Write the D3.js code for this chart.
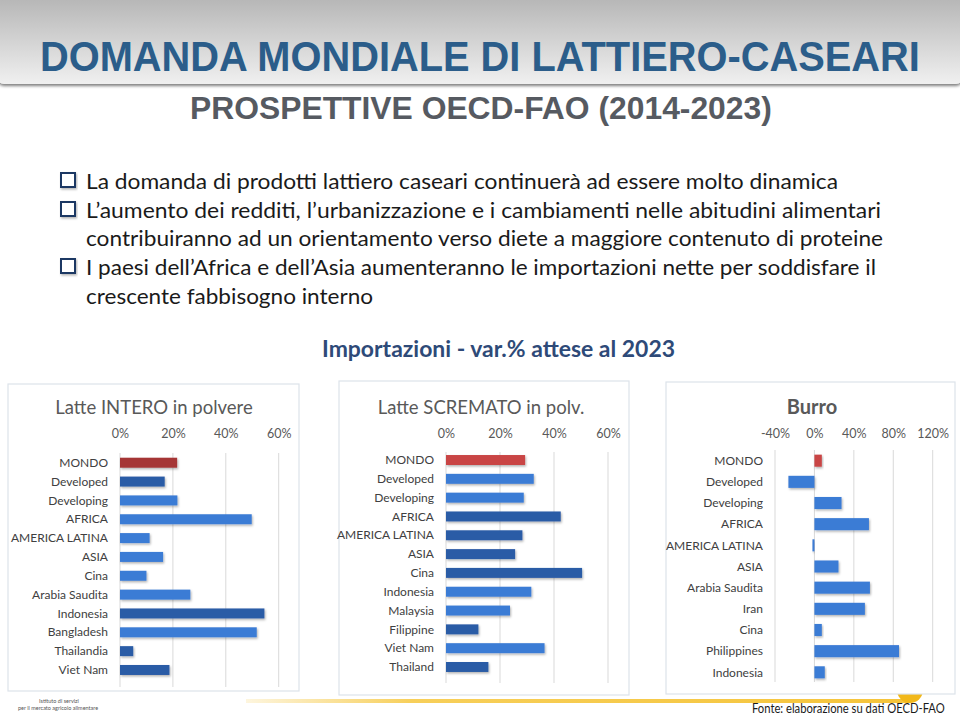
<!DOCTYPE html>
<html lang="it">
<head>
<meta charset="utf-8">
<title>Domanda mondiale di lattiero-caseari</title>
<script src="https://cdn.jsdelivr.net/npm/d3@7"></script>
<style>
    body { margin: 0; background: #fff; }
    text { font-family: Lato, "Noto Sans", sans-serif; }
    .title { font-family: "Liberation Sans Narrow", "Liberation Sans", Arial, sans-serif; font-weight: bold; }
    .bullet { font-size: 21px; fill: #1a1a1a; }
    .cat { font-size: 12px; fill: #404040; }
    .tick text { font-size: 12.5px; fill: #595959; font-family: Lato, "Noto Sans", sans-serif; }
    .grid { stroke: #d9d9d9; stroke-width: 1; }
    .panel { fill: #fff; stroke: #dde3ea; stroke-width: 1.2; }
</style>
</head>
<body>
<div id="container"></div>
<script>
// ---- data ----
var bullets = [
  "La domanda di prodotti lattiero caseari continuerà ad essere molto dinamica",
  "L’aumento dei redditi, l’urbanizzazione e i cambiamenti nelle abitudini alimentari",
  "contribuiranno ad un orientamento verso diete a maggiore contenuto di proteine",
  "I paesi dell’Africa e dell’Asia aumenteranno le importazioni nette per soddisfare il",
  "crescente fabbisogno interno"
];

var intCats = ["MONDO","Developed","Developing","AFRICA","AMERICA LATINA","ASIA","Cina","Arabia Saudita","Indonesia","Bangladesh","Thailandia","Viet Nam"];
var intVals = [0.216, 0.169, 0.217, 0.498, 0.112, 0.163, 0.100, 0.266, 0.546, 0.517, 0.050, 0.187];
var intTone = ["w","d","l","l","l","l","l","l","d","l","d","d"];

var scrCats = ["MONDO","Developed","Developing","AFRICA","AMERICA LATINA","ASIA","Cina","Indonesia","Malaysia","Filippine","Viet Nam","Thailand"];
var scrVals = [0.293, 0.325, 0.288, 0.425, 0.283, 0.256, 0.504, 0.316, 0.237, 0.120, 0.365, 0.157];
var scrTone = ["w","l","l","d","d","d","d","l","l","d","l","d"];

var burCats = ["MONDO","Developed","Developing","AFRICA","AMERICA LATINA","ASIA","Arabia Saudita","Iran","Cina","Philippines","Indonesia"];
var burVals = [0.075, -0.264, 0.275, 0.553, -0.02, 0.244, 0.563, 0.512, 0.075, 0.858, 0.105];
var burTone = ["w","l","l","l","l","l","l","l","l","l","l"];

var ticks60 = [0, 0.2, 0.4, 0.6];
var ticks120 = [-0.4, 0, 0.4, 0.8, 1.2];

var W = 960, H = 716;
var svg = d3.select("#container").append("svg")
    .attr("width", W).attr("height", H);

var defs = svg.append("defs");
var hg = defs.append("linearGradient").attr("id", "hdr").attr("x1", 0).attr("y1", 0).attr("x2", 0).attr("y2", 1);
hg.append("stop").attr("offset", "0%").attr("stop-color", "#b4b4b4");
hg.append("stop").attr("offset", "100%").attr("stop-color", "#f0f0f0");
var yg = defs.append("linearGradient").attr("id", "yel").attr("x1", 0).attr("y1", 0).attr("x2", 1).attr("y2", 0);
yg.append("stop").attr("offset", "0%").attr("stop-color", "#f7cf5a").attr("stop-opacity", 0.2);
yg.append("stop").attr("offset", "25%").attr("stop-color", "#f7cf5a").attr("stop-opacity", 1);
yg.append("stop").attr("offset", "100%").attr("stop-color", "#f5c43a");
var sh = defs.append("filter").attr("id", "shadow").attr("x", "-10%").attr("y", "-30%").attr("width", "130%").attr("height", "180%");
sh.append("feDropShadow").attr("dx", 1).attr("dy", 1.5).attr("stdDeviation", 1).attr("flood-color", "#000").attr("flood-opacity", 0.3);
var hs = defs.append("filter").attr("id", "hshadow").attr("x", "-5%").attr("y", "-5%").attr("width", "110%").attr("height", "130%");
hs.append("feDropShadow").attr("dx", 0).attr("dy", 2).attr("stdDeviation", 1.5).attr("flood-color", "#000").attr("flood-opacity", 0.5);

// squeeze a text horizontally so it spans [x0, x0 + width]
function fitText(sel, x0, y0, width) {
  sel.attr("x", 0).attr("y", 0);
  var k = width / sel.node().getComputedTextLength();
  sel.attr("transform", "translate(" + x0 + "," + y0 + ") scale(" + k + ",1)");
  return sel;
}

// ---------------------------//
//        HEADER              //
// ---------------------------//
svg.append("rect").attr("x", -2).attr("y", -5).attr("width", W + 4).attr("height", 89)
    .attr("rx", 6).attr("fill", "url(#hdr)").attr("filter", "url(#hshadow)");

fitText(svg.append("text").attr("class", "title")
    .attr("font-size", 43).attr("fill", "#2b5d8a")
    .text("DOMANDA MONDIALE DI LATTIERO-CASEARI"), 40, 71, 880);

fitText(svg.append("text").attr("class", "title")
    .attr("font-size", 32).attr("fill", "#565a61")
    .text("PROSPETTIVE OECD-FAO (2014-2023)"), 190, 119, 582);

// ---------------------------//
//        BULLETS             //
// ---------------------------//
var lineY = [189, 218, 246, 275, 304];
var lineEnd = [838, 881, 883, 876, 373];
var hasBox = [true, true, false, true, false];
bullets.forEach(function(t, i) {
  if (hasBox[i]) {
    svg.append("rect").attr("x", 61).attr("y", lineY[i] - 16).attr("width", 14).attr("height", 14)
      .attr("fill", "#fff").attr("stroke", "#1f3864").attr("stroke-width", 2)
      .attr("filter", "url(#shadow)");
  }
  svg.append("text").attr("class", "bullet")
    .attr("x", 86).attr("y", lineY[i])
    .attr("textLength", lineEnd[i] - 86).attr("lengthAdjust", "spacingAndGlyphs")
    .text(t);
});

svg.append("text")
    .attr("x", 322).attr("y", 357)
    .attr("font-size", 22).attr("font-weight", "bold").attr("fill", "#2e4a78")
    .attr("textLength", 353).attr("lengthAdjust", "spacingAndGlyphs")
    .text("Importazioni - var.% attese al 2023");

// ---------------------------//
//        FOOTER              //
// ---------------------------//
svg.append("rect").attr("x", 246).attr("y", 699).attr("width", 664).attr("height", 4).attr("fill", "url(#yel)");
svg.append("circle").attr("cx", 910).attr("cy", 690).attr("r", 13).attr("fill", "#f2b81a");

svg.append("text").attr("x", 59).attr("y", 703).attr("text-anchor", "middle")
    .attr("font-size", 5.5).attr("fill", "#555").text("Istituto di servizi");
svg.append("text").attr("x", 58).attr("y", 710).attr("text-anchor", "middle")
    .attr("font-size", 5.5).attr("fill", "#555").text("per il mercato agricolo alimentare");

fitText(svg.append("text")
    .attr("font-size", 13.5).attr("fill", "#1a1a1a")
    .text("Fonte: elaborazione su dati OECD-FAO"), 752, 713, 193);

// ---------------------------//
//        PANELS              //
// ---------------------------//
var toneColor = { w: null, d: "#2c5ca6", l: "#3b7bd5" };
var pct = function(d) { return Math.round(d * 100) + "%"; };

function drawPanel(p) {
  var g = svg.append("g");
  g.append("rect").attr("class", "panel")
    .attr("x", p.box[0]).attr("y", p.box[1]).attr("width", p.box[2]).attr("height", p.box[3]);

  g.append("text")
    .attr("x", p.titleX).attr("y", 414).attr("text-anchor", "middle")
    .attr("font-size", p.bold ? 20 : 18.5).attr("font-weight", p.bold ? "bold" : "normal")
    .attr("fill", "#595959")
    .text(p.title);

  var x = d3.scaleLinear().domain(p.domain).range(p.range);
  var y = d3.scaleBand().domain(p.cats).range(p.yRange)
      .paddingInner(p.pad).paddingOuter(p.pad / 2);

  g.selectAll("line.grid").data(p.ticks).enter().append("line")
    .attr("class", "grid")
    .attr("x1", function(d) { return x(d); }).attr("x2", function(d) { return x(d); })
    .attr("y1", p.grid[0]).attr("y2", p.grid[1]);

  var ax = g.append("g").attr("transform", "translate(0,438)")
    .call(d3.axisTop(x).tickValues(p.ticks).tickFormat(pct).tickSize(0).tickPadding(0));
  ax.select(".domain").remove();

  g.selectAll("rect.bar").data(p.cats).enter().append("rect")
    .attr("class", "bar")
    .attr("x", function(d, i) { return x(Math.min(0, p.vals[i])); })
    .attr("y", function(d) { return y(d); })
    .attr("width", function(d, i) { return Math.abs(x(p.vals[i]) - x(0)); })
    .attr("height", y.bandwidth())
    .attr("fill", function(d, i) { return p.tone[i] === "w" ? p.red : toneColor[p.tone[i]]; })
    .attr("filter", "url(#shadow)");

  g.selectAll("text.cat").data(p.cats).enter().append("text")
    .attr("class", "cat")
    .attr("x", p.labelX)
    .attr("y", function(d) { return y(d) + y.bandwidth() / 2; })
    .attr("dy", "0.35em").attr("text-anchor", "end")
    .text(function(d) { return d; });
}

drawPanel({
  box: [8, 384, 291, 307], title: "Latte INTERO in polvere", titleX: 154, bold: false,
  cats: intCats, vals: intVals, tone: intTone, red: "#a53636",
  domain: [0, 0.6], range: [120, 278.7], ticks: ticks60,
  yRange: [453.3, 679.4], pad: 0.47, grid: [453, 687], labelX: 108
});

drawPanel({
  box: [339, 381, 290, 314], title: "Latte SCREMATO in polv.", titleX: 481, bold: false,
  cats: scrCats, vals: scrVals, tone: scrTone, red: "#c94545",
  domain: [0, 0.6], range: [446, 608], ticks: ticks60,
  yRange: [450.6, 676.4], pad: 0.47, grid: [452, 683], labelX: 434
});

drawPanel({
  box: [666, 382, 289, 312], title: "Burro", titleX: 812, bold: true,
  cats: burCats, vals: burVals, tone: burTone, red: "#c94545",
  domain: [-0.4, 1.2], range: [775, 932.7], ticks: ticks120,
  yRange: [450.1, 682.9], pad: 0.43, grid: [450, 682], labelX: 763
});
</script>
</body>
</html>
